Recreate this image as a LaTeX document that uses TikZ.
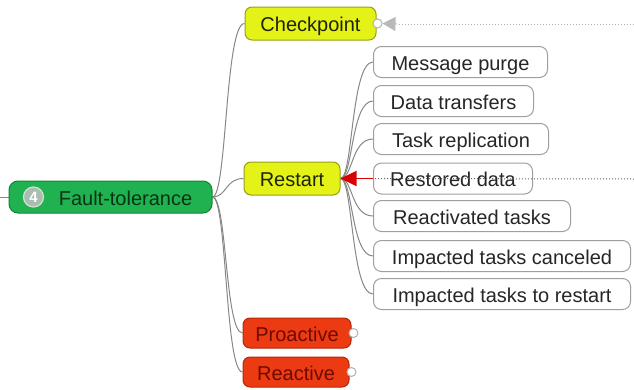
\documentclass[tikz,border=0pt]{standalone}
\usepackage{fontspec}
\setmainfont{Liberation Sans}
\usetikzlibrary{arrows.meta,backgrounds}
\definecolor{rootg}{RGB}{32,178,80}
\definecolor{rootd}{RGB}{20,130,55}
\definecolor{roott}{RGB}{10,50,20}
\definecolor{yel}{RGB}{228,242,24}
\definecolor{yeld}{RGB}{150,160,20}
\definecolor{yelt}{RGB}{30,35,0}
\definecolor{redf}{RGB}{236,58,18}
\definecolor{redd}{RGB}{180,40,10}
\definecolor{redt}{RGB}{110,10,0}
\definecolor{linkc}{RGB}{135,135,135}
\definecolor{badgec}{RGB}{170,190,175}
\begin{document}
\begin{tikzpicture}[x=1pt,y=-1pt,
  every node/.style={font=\fontsize{20}{24}\selectfont, inner sep=0pt},
  base/.style={rounded corners=7pt, line width=1pt, minimum height=32pt, text height=18pt, text depth=2pt},
  rootbox/.style={base, fill=rootg, draw=rootd, text=roott, rounded corners=9pt},
  yelbox/.style={base, fill=yel, draw=yeld, text=yelt},
  redbox/.style={base, fill=redf, draw=redd, text=redt},
  leaf/.style={base, anchor=west, fill=white, draw=gray!75, text=black!85, minimum height=31pt, rounded corners=8pt},
  link/.style={draw=linkc, line width=1pt},
  knob/.style={circle, draw=gray!60, fill=white, minimum size=9pt, line width=1pt},
]
\useasboundingbox (0,0) rectangle (634,389);

% main nodes
\node[rootbox, minimum width=203pt] (ft) at (110.5,197) {\hspace{30pt}Fault-tolerance};
\node[circle, fill=badgec, draw=white!50!badgec, line width=1.2pt, minimum size=20pt, text=white,
      font=\bfseries\fontsize{15}{15}\selectfont] (badge) at (33.5,197) {4};
\node[yelbox, minimum width=131pt, minimum height=33pt] (cp) at (310.5,23.5) {Checkpoint};
\node[yelbox, minimum width=96pt, minimum height=33pt] (rs) at (292,178.5) {Restart};
\node[redbox, minimum width=108pt, minimum height=30pt] (pa) at (297,333) {Proactive};
\node[redbox, minimum width=106pt, minimum height=30pt] (ra) at (296,372) {Reactive};

% leaves
\node[leaf, minimum width=174pt] (mp) at (373,62) {Message purge};
\node[leaf, minimum width=160pt] (dt) at (373,101) {Data transfers};
\node[leaf, minimum width=175pt] (tr) at (373,139) {Task replication};
\node[leaf, minimum width=159pt] (rd) at (373,178.5) {Restored data};
\node[leaf, minimum width=197pt] (rt) at (373,216) {Reactivated tasks};
\node[leaf, minimum width=257pt] (ic) at (373,256) {Impacted tasks canceled};
\node[leaf, minimum width=257pt] (it) at (373,294) {Impacted tasks to restart};

% knobs
\node[knob] (cpk) at ([xshift=1pt]cp.east) {};
\node[knob] (pak) at ([xshift=2pt]pa.east) {};
\node[knob] (rak) at ([xshift=2pt]ra.east) {};

% external / helper coordinates
\coordinate (in) at (0,197);
\coordinate (cpR) at (634,24);
\coordinate (cpA) at (397,24);
\coordinate (rsR) at (634,179);

\begin{scope}[on background layer]
  \draw[link] (in) -- (ft.west);
  \foreach \c in {cp,rs,pa,ra}{
    \draw[link] (ft.east) .. controls (227,197) and (225,0|-\c.west) .. (\c.west);
  }
  \foreach \c in {mp,dt,tr,rd,rt,ic,it}{
    \draw[link] (rs.east) .. controls (353,178.5) and (351,0|-\c.west) .. (\c.west);
  }
\end{scope}

% checkpoint incoming dotted link
\draw[gray!60, dotted, line width=1pt] (cpR) -- (cpA);
\draw[gray!55, line width=1pt, -{Triangle[length=13pt,width=14pt]}] (cpA) -- (cpk.east);

% restart incoming dotted link
\draw[black!60, dotted, line width=1pt] (rsR) -- (rd.west);
\draw[red!85!black, line width=1.6pt, -{Triangle[length=16pt,width=15pt]}] (rd.west) -- (rs.east);
\end{tikzpicture}
\end{document}
